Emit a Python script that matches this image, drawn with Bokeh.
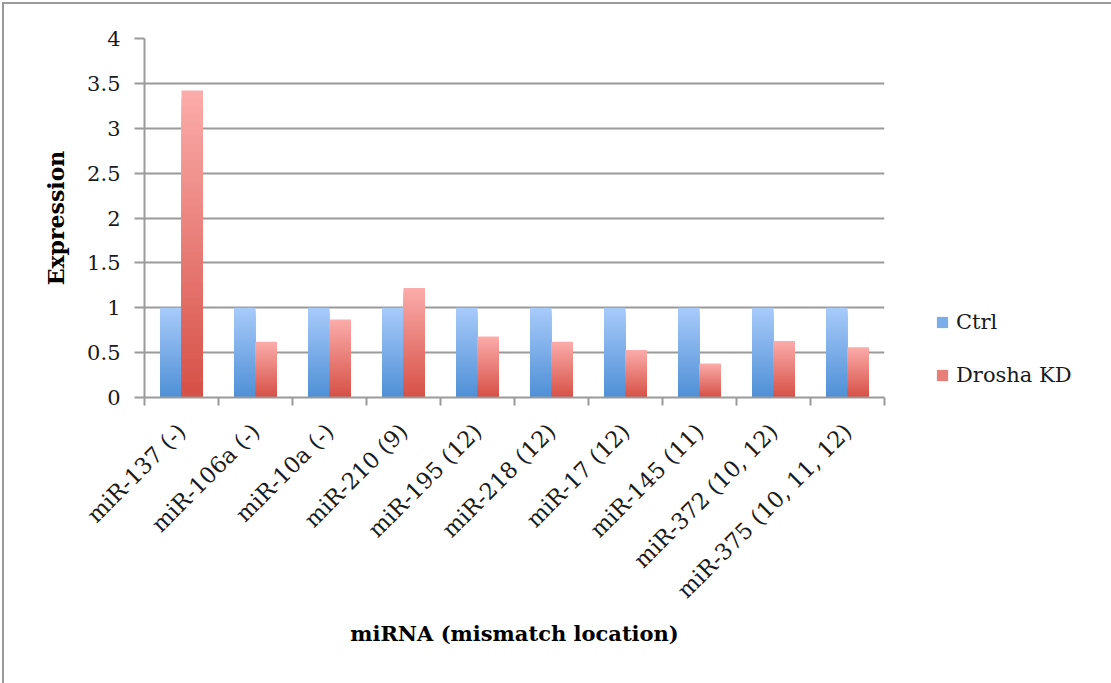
import math

from bokeh.embed import file_html
from bokeh.layouts import row
from bokeh.models import (ColumnDataSource, FixedTicker, Grid, Legend, LegendItem, LinearAxis,
                          NumeralTickFormatter, Range1d)
from bokeh.plotting import figure
from bokeh.resources import INLINE
from bokeh.transform import dodge

# ---- data -------------------------------------------------------------
mirnas = ["miR-137 (-)", "miR-106a (-)", "miR-10a (-)", "miR-210 (9)", "miR-195 (12)",
          "miR-218 (12)", "miR-17 (12)", "miR-145 (11)", "miR-372 (10, 12)",
          "miR-375 (10, 11, 12)"]
ctrl = [1.0, 1.0, 1.0, 1.0, 1.0, 1.0, 1.0, 1.0, 1.0, 1.0]
drosha_kd = [3.42, 0.62, 0.87, 1.22, 0.68, 0.62, 0.53, 0.38, 0.63, 0.56]
y_ticks = [0, 0.5, 1, 1.5, 2, 2.5, 3, 3.5, 4]
series_names = ["Ctrl", "Drosha KD"]

# ---- style ------------------------------------------------------------
FONT = "DejaVu Serif"
GRAY = "#9a9a9a"
TEXT = "#1a1a1a"
CTRL_BOTTOM, CTRL_TOP = (78, 143, 214), (168, 203, 250)
KD_BOTTOM, KD_TOP = (214, 80, 70), (251, 172, 170)
BAR_W = 0.29
STEPS = 40

n = len(mirnas)
centers = [i + 0.5 for i in range(n)]      # category slot centres on a 0..n axis
edges = list(range(n + 1))                 # category slot boundaries


def mix(c0, c1, f):
    return "#%02x%02x%02x" % tuple(int(round(a + (b - a) * f)) for a, b in zip(c0, c1))


def shaded_source(values, c_bottom, c_top):
    """Each bar as a stack of nested bars (tallest first) giving a vertical gradient."""
    xs, tops, colors = [], [], []
    for xc, v in zip(centers, values):
        for k in range(STEPS, 0, -1):
            xs.append(xc)
            tops.append(v * k / STEPS)
            colors.append(mix(c_bottom, c_top, (k - 0.5) / STEPS))
    return ColumnDataSource(dict(x=xs, top=tops, color=colors))


def bare_figure(**kw):
    f = figure(x_axis_location=None, y_axis_location=None, output_backend="svg",
               toolbar_location=None, **kw)
    f.outline_line_color = None
    f.background_fill_color = "white"
    f.border_fill_color = "white"
    f.center = [r for r in f.center if not isinstance(r, Grid)]
    return f


# ---- main chart ---------------------------------------------------------
p = bare_figure(x_range=Range1d(0, n), y_range=Range1d(0, 4), width=888, height=679,
                min_border_left=140, min_border_top=34, min_border_right=8,
                min_border_bottom=286)

p.add_layout(Grid(dimension=1, ticker=FixedTicker(ticks=y_ticks),
                  grid_line_color=GRAY, grid_line_width=2))

ctrl_src = shaded_source(ctrl, CTRL_BOTTOM, CTRL_TOP)
kd_src = shaded_source(drosha_kd, KD_BOTTOM, KD_TOP)
p.vbar(x=dodge("x", -0.145), top="top", bottom=0, width=BAR_W,
       source=ctrl_src, fill_color="color", line_color=None)
p.vbar(x=dodge("x", 0.145), top="top", bottom=0, width=BAR_W,
       source=kd_src, fill_color="color", line_color=None)

yaxis = LinearAxis(ticker=FixedTicker(ticks=y_ticks), formatter=NumeralTickFormatter(format="0.[0]"),
                   axis_label="Expression", axis_label_text_font=FONT,
                   axis_label_text_font_size="22px", axis_label_text_font_style="bold",
                   axis_label_text_color="black", axis_label_standoff=15,
                   major_label_text_font=FONT, major_label_text_font_size="21px",
                   major_label_text_color=TEXT, major_label_standoff=14,
                   axis_line_color=GRAY, axis_line_width=2,
                   major_tick_line_color=GRAY, major_tick_line_width=2,
                   major_tick_out=10, major_tick_in=0, minor_tick_line_color=None)
p.add_layout(yaxis, "left")

# tick marks on category boundaries
edge_axis = LinearAxis(ticker=FixedTicker(ticks=edges),
                       major_label_overrides={e: "" for e in edges},
                       major_label_text_font_size="0px", major_label_standoff=0,
                       axis_line_color=GRAY, axis_line_width=2,
                       major_tick_line_color=GRAY, major_tick_line_width=2,
                       major_tick_out=8, major_tick_in=0, minor_tick_line_color=None)
p.add_layout(edge_axis, "below")

# rotated category names at slot centres
name_axis = LinearAxis(ticker=FixedTicker(ticks=centers),
                       major_label_overrides={c: name for c, name in zip(centers, mirnas)},
                       major_label_orientation=math.pi / 4,
                       major_label_text_font=FONT, major_label_text_font_size="22.5px",
                       major_label_text_color=TEXT, major_label_standoff=16,
                       axis_line_color=None, major_tick_line_color=None,
                       minor_tick_line_color=None,
                       axis_label="miRNA (mismatch location)", axis_label_text_font=FONT,
                       axis_label_text_font_size="21px", axis_label_text_font_style="bold",
                       axis_label_text_color="black", axis_label_standoff=6)
p.add_layout(name_axis, "below")

# ---- legend panel (its frame lines up with the chart frame) -------------
lg = bare_figure(x_range=Range1d(0, 1), y_range=Range1d(0, 1), width=219, height=679,
                 min_border=0)
mid_ctrl = mix(CTRL_BOTTOM, CTRL_TOP, 0.5)
mid_kd = mix(KD_BOTTOM, KD_TOP, 0.5)
# swatch carriers for the legend; their single row lies outside the visible range
sw_ctrl = lg.vbar(x=[5], top=[5], bottom=[4], width=0.1, fill_color=mid_ctrl, line_color=None)
sw_kd = lg.vbar(x=[5], top=[5], bottom=[4], width=0.1, fill_color=mid_kd, line_color=None)
legend = Legend(items=[LegendItem(label=series_names[0], renderers=[sw_ctrl]),
                       LegendItem(label=series_names[1], renderers=[sw_kd])],
                location=(43, 10), glyph_width=14, glyph_height=14, label_standoff=7,
                label_text_font=FONT, label_text_font_size="21px", label_text_color=TEXT,
                label_height=20, spacing=29, padding=0, margin=0,
                border_line_color=None, background_fill_alpha=0)
lg.add_layout(legend, "center")

page = row(p, lg, styles={"border-top": "2px solid #9a9a9a", "border-left": "2px solid #9a9a9a",
                          "margin-top": "2px", "margin-left": "2px"})

open("out.html", "w").write(file_html(page, INLINE))
